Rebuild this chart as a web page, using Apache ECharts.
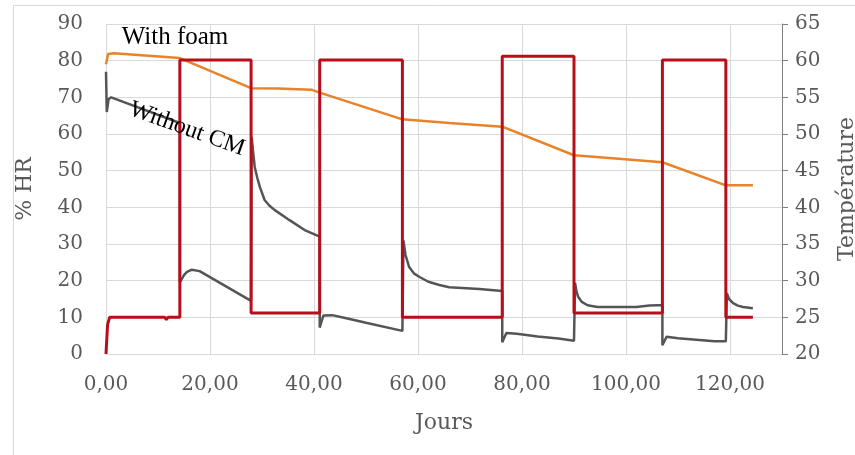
<!DOCTYPE html>
<html>
<head>
<meta charset="utf-8">
<script src="https://cdn.jsdelivr.net/npm/echarts@6/dist/echarts.min.js"></script>
<style>html,body{margin:0;padding:0;background:#fff}#c{width:855px;height:455px}</style>
</head>
<body>
<div id="c"></div>
<script>
// X axis ticks (days)
var xTicks = [0, 20, 40, 60, 80, 100, 120];
var hrTicks = [0, 10, 20, 30, 40, 50, 60, 70, 80, 90];
var tempTicks = [20, 25, 30, 35, 40, 45, 50, 55, 60, 65];

// Température (right axis) – red
var tempDays = [0, 0.3, 0.7, 11.3, 11.6, 11.9, 14.2, 14.2, 21, 27.9, 27.9, 41.1, 41.1, 57.0, 57.0, 76.2, 76.2, 90.0, 90.0, 107.0, 107.0, 119.2, 119.2, 124.4];
var tempVals = [20, 24, 25, 25, 24.7, 25, 25, 60.1, 60.1, 60.1, 25.6, 25.6, 60.1, 60.1, 25, 25, 60.6, 60.6, 25.6, 25.6, 60.1, 60.1, 25, 25];

// With foam (%HR) – orange
var foamDays = [0, 0.4, 1.5, 14.2, 27.9, 33, 39.5, 41.1, 57.0, 66, 76.2, 90.0, 98, 107.0, 119.2, 124.4];
var foamVals = [79, 81.8, 82, 80.7, 72.5, 72.4, 72.1, 71.3, 64, 63, 62, 54.2, 53.3, 52.3, 46, 46];

// Without CM (%HR) – grey
var cmDays = [0, 0.15, 0.5, 1, 14.2, 14.2, 15, 15.5, 16.5, 18, 27.9,
  28.0, 28.3, 28.6, 29.1, 29.6, 30.5, 31.4, 32.4, 35.3, 38.2, 41.1,
  41.1, 41.8, 43.5, 46, 50, 57.0,
  57.2, 57.6, 58.3, 59.2, 60.3, 62, 64.1, 66, 71.8, 76.2,
  76.2, 77, 79, 83, 87, 90.0,
  90.2, 90.5, 90.8, 91.5, 92.6, 94.5, 102, 104.5, 106, 107.0,
  107.0, 107.8, 110, 117, 119.2,
  119.4, 119.8, 120.6, 121.5, 122.5, 124.4];
var cmVals = [77, 66, 69.5, 70, 63, 19.5, 21.5, 22.3, 23, 22.6, 14.5,
  59.2, 55, 51, 48, 45.5, 42, 40.5, 39.3, 36.5, 33.8, 32,
  7.2, 10.5, 10.6, 9.8, 8.5, 6.3,
  31, 27, 23.7, 22, 21, 19.7, 18.8, 18.2, 17.7, 17.2,
  3.2, 5.7, 5.5, 4.8, 4.2, 3.6,
  19.4, 17, 15.6, 14.2, 13.3, 12.8, 12.8, 13.2, 13.3, 13.3,
  2.4, 4.7, 4.3, 3.5, 3.5,
  16.6, 15, 13.9, 13.2, 12.8, 12.5];

function zip(a, b) { return a.map(function (d, i) { return [d, b[i]]; }); }

var FONT = '"DejaVu Serif", serif';
var LBL = '#595959';
var chart = echarts.init(document.getElementById('c'), null, {renderer: 'canvas'});
chart.setOption({
  animation: false,
  backgroundColor: '#fff',
  grid: {left: 106, right: 73, top: 24, bottom: 101, containLabel: false, outerBoundsMode: 'none'},
  xAxis: {
    type: 'value', min: xTicks[0], max: 130, interval: 20,
    name: 'Jours', nameLocation: 'middle', nameGap: 58,
    nameTextStyle: {fontFamily: FONT, fontSize: 22, color: LBL},
    axisLine: {show: true, lineStyle: {color: '#d9d9d9', width: 1}},
    axisTick: {show: false},
    axisLabel: {fontFamily: FONT, fontSize: 20, color: LBL, margin: 21, showMaxLabel: false,
      formatter: function (v) { return v.toFixed(2).replace('.', ','); }},
    splitLine: {show: true, lineStyle: {color: '#d9d9d9', width: 1}}
  },
  yAxis: [{
    type: 'value', min: hrTicks[0], max: hrTicks[hrTicks.length - 1], interval: 10,
    name: '% HR', nameLocation: 'middle', nameGap: 70, nameRotate: 90,
    nameTextStyle: {fontFamily: FONT, fontSize: 22, color: LBL},
    axisLine: {show: false}, axisTick: {show: false},
    axisLabel: {fontFamily: FONT, fontSize: 20, color: LBL, margin: 23},
    splitLine: {show: true, lineStyle: {color: '#d9d9d9', width: 1}}
  }, {
    type: 'value', position: 'right', min: tempTicks[0], max: tempTicks[tempTicks.length - 1], interval: 5,
    name: 'Température', nameLocation: 'middle', nameGap: 54, nameRotate: 90,
    nameTextStyle: {fontFamily: FONT, fontSize: 22, color: LBL},
    axisLine: {show: true, lineStyle: {color: '#7f7f7f', width: 1}},
    axisTick: {show: true, inside: false, length: 6, lineStyle: {color: '#7f7f7f'}},
    axisLabel: {fontFamily: FONT, fontSize: 20, color: LBL, margin: 13},
    splitLine: {show: false}
  }],
  series: [{
    type: 'line', name: 'Without CM', yAxisIndex: 0, data: zip(cmDays, cmVals),
    showSymbol: false, lineStyle: {color: '#555555', width: 2.5}, itemStyle: {color: '#555555'}, z: 2
  }, {
    type: 'line', name: 'With foam', yAxisIndex: 0, data: zip(foamDays, foamVals),
    showSymbol: false, lineStyle: {color: '#E8832A', width: 2.5}, itemStyle: {color: '#E8832A'}, z: 3
  }, {
    type: 'line', name: 'Température', yAxisIndex: 1, data: zip(tempDays, tempVals),
    showSymbol: false, lineStyle: {color: '#B80E1B', width: 3}, itemStyle: {color: '#B80E1B'}, z: 4
  }],
  graphic: [{
    type: 'rect', left: 11, top: 3, shape: {width: 860, height: 470},
    style: {fill: 'none', stroke: '#d9d9d9', lineWidth: 1}, silent: true, z: -1
  }, {
    type: 'text', x: 175, y: 37, z: 10,
    style: {text: 'With foam', font: '25px "Liberation Serif", serif', fill: '#000', textAlign: 'center', textVerticalAlign: 'middle'}
  }, {
    type: 'text', x: 187, y: 129, rotation: -0.345, z: 10,
    style: {text: 'Without CM', font: '24px "Liberation Serif", serif', fill: '#000', textAlign: 'center', textVerticalAlign: 'middle'}
  }]
});
</script>
</body>
</html>
